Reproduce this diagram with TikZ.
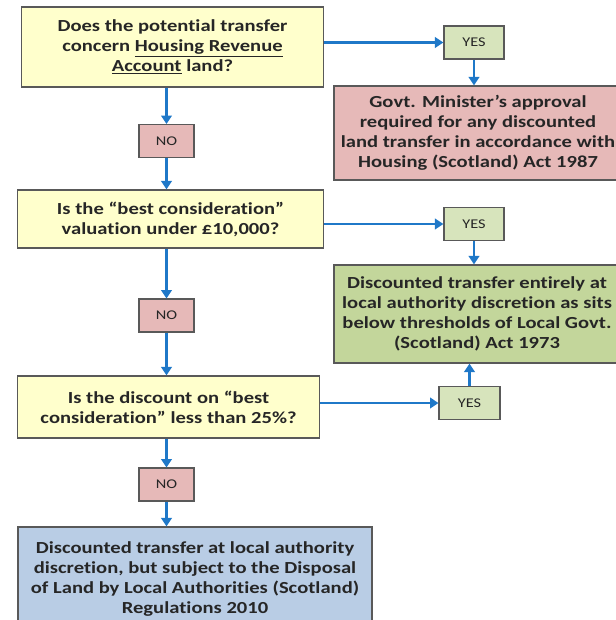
\documentclass[tikz,border=0pt]{standalone}
\usepackage{fontspec}
\setmainfont{Carlito}[FakeStretch=1.22, Ligatures=NoCommon]
\usetikzlibrary{arrows.meta}

\definecolor{qyellow}{HTML}{FFFFCC}
\definecolor{nored}{HTML}{E6B9B8}
\definecolor{yesgreen}{HTML}{D7E4BC}
\definecolor{resgreen}{HTML}{C3D69B}
\definecolor{resblue}{HTML}{B9CDE5}
\definecolor{boxline}{HTML}{595959}
\definecolor{arrowblue}{HTML}{1F78C8}
\definecolor{txt}{HTML}{262626}

\begin{document}
\begin{tikzpicture}[x=0.025cm, y=-0.025cm,
    box/.style={draw=boxline, line width=0.9pt, align=center, text=txt, inner sep=0pt,
      font=\fontsize{12}{14.2}\selectfont\bfseries},
    tag/.style={draw=boxline, line width=0.9pt, text=txt, inner sep=0pt,
      minimum width=1.375cm, minimum height=0.82cm, font=\fontsize{9.5}{11}\selectfont},
    link/.style={draw=arrowblue, line width=1.6pt, -{Triangle[length=6pt,width=7.5pt]}}]
    \useasboundingbox (0,0) rectangle (616,620);

    % questions
    \node[box, fill=qyellow, minimum width=7.53cm, minimum height=2cm] (q1) at (172.5,47)
      {Does the potential transfer\\concern \underline{Housing Revenue}\\\underline{Account} land?};
    \node[box, fill=qyellow, minimum width=7.63cm, minimum height=1.45cm] (q2) at (170.5,219)
      {Is the “best consideration”\\valuation under £10,000?};
    \node[box, fill=qyellow, minimum width=7.53cm, minimum height=1.55cm] (q3) at (168.5,407)
      {Is the discount on “best\\consideration” less than 25\%?};

    % no answers
    \node[tag, fill=nored] (no1) at (166.5,141) {NO};
    \node[tag, fill=nored] (no2) at (166.5,315.5) {NO};
    \node[tag, fill=nored] (no3) at (166.5,484.5) {NO};

    % yes answers
    \node[tag, fill=yesgreen, minimum width=1.5cm] (yes1) at (474,42.5) {YES};
    \node[tag, fill=yesgreen, minimum width=1.5cm] (yes2) at (474,224) {YES};
    \node[tag, fill=yesgreen, minimum width=1.52cm] (yes3) at (469.5,403) {YES};

    % outcomes
    \node[box, fill=nored, minimum width=7.2cm, minimum height=2.35cm] (r1) at (478,133)
      {Govt. Minister’s approval\\required for any discounted\\land transfer in accordance with\\Housing (Scotland) Act 1987};
    \node[box, fill=resgreen, minimum width=7.15cm, minimum height=2.45cm] (r2) at (477,314)
      {Discounted transfer entirely at\\local authority discretion as sits\\below thresholds of Local Govt.\\(Scotland) Act 1973};
    \node[box, fill=resblue, minimum width=8.85cm, minimum height=2.6cm] (r3) at (195,579)
      {Discounted transfer at local authority\\discretion, but subject to the Disposal\\of Land by Local Authorities (Scotland)\\Regulations 2010};

    % connectors
    \draw[link] (no1.north |- q1.south) -- (no1.north);
    \draw[link] (no1.south) -- (no1.south |- q2.north);
    \draw[link] (no2.north |- q2.south) -- (no2.north);
    \draw[link] (no2.south) -- (no2.south |- q3.north);
    \draw[link] (no3.north |- q3.south) -- (no3.north);
    \draw[link] (no3.south) -- (no3.south |- r3.north);
    \draw[link] (yes1.west -| q1.east) -- (yes1.west);
    \draw[link] (yes2.west -| q2.east) -- (yes2.west);
    \draw[link] (yes3.west -| q3.east) -- (yes3.west);
    \draw[link] (yes1.south) -- (r1.north -| yes1.south);
    \draw[link] (yes2.south) -- (r2.north -| yes2.south);
    \draw[link] (yes3.north) -- (r2.south -| yes3.north);
\end{tikzpicture}
\end{document}
